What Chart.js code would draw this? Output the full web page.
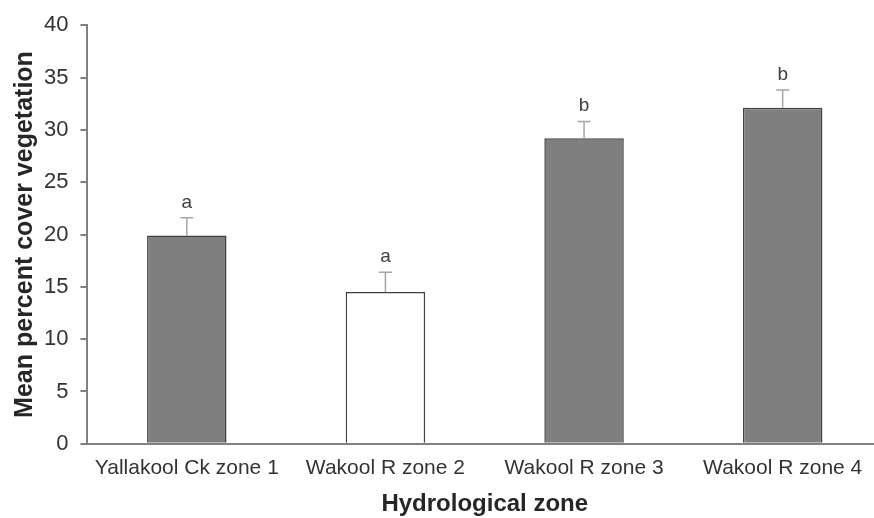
<!DOCTYPE html>
<html>
<head>
<meta charset="utf-8">
<script src="https://cdn.jsdelivr.net/npm/chart.js@4"></script>
<style>
  html, body { margin: 0; padding: 0; background: #fff; overflow: hidden; }
  #wrap { width: 882px; height: 518px; }
</style>
</head>
<body>
<div id="wrap"><canvas id="c"></canvas></div>
<script>
// データ
const zones = ['Yallakool Ck zone 1', 'Wakool R zone 2', 'Wakool R zone 3', 'Wakool R zone 4'];
const meanCover = [19.9, 14.5, 29.2, 32.1];
const errUpper = [1.7, 1.9, 1.6, 1.7];   // 標準誤差（上側のみ）
const groupLetters = ['a', 'a', 'b', 'b'];
const barColors = ['#7f7f7f', '#ffffff', '#7f7f7f', '#7f7f7f'];

const FONT = '"Liberation Sans", Arial, sans-serif';

// エラーバーと文字を描くプラグイン
const errorBars = {
    id: 'errorBars',
    afterDatasetsDraw(chart) {
        const ctx = chart.ctx;
        const y = chart.scales.y;
        const meta = chart.getDatasetMeta(0);
        ctx.save();
        meta.data.forEach((bar, i) => {
            const top = y.getPixelForValue(meanCover[i] + errUpper[i]);
            const base = y.getPixelForValue(meanCover[i]);
            ctx.strokeStyle = '#a6a6a6';
            ctx.lineWidth = 1.5;
            ctx.beginPath();
            ctx.moveTo(bar.x, base);
            ctx.lineTo(bar.x, top);
            ctx.moveTo(bar.x - 6.5, top);
            ctx.lineTo(bar.x + 6.5, top);
            ctx.stroke();
            ctx.fillStyle = '#404040';
            ctx.font = '19px ' + FONT;
            ctx.textAlign = 'center';
            ctx.textBaseline = 'alphabetic';
            ctx.fillText(groupLetters[i], bar.x, top - 10);
        });
        ctx.restore();
    }
};

new Chart(document.getElementById('c'), {
    type: 'bar',
    data: {
        labels: zones,
        datasets: [{
            data: meanCover,
            backgroundColor: barColors,
            borderColor: '#404040',
            borderWidth: 1.5,
            barPercentage: 0.4,
            categoryPercentage: 1.0
        }]
    },
    options: {
        responsive: true,
        maintainAspectRatio: false,
        animation: false,
        layout: { padding: { top: 24, right: 0, left: 1, bottom: 0 } },
        plugins: { legend: { display: false }, tooltip: { enabled: false } },
        scales: {
            x: {
                grid: { display: false, drawTicks: false },
                border: { display: true, color: '#808080', width: 2 },
                ticks: { color: '#333', font: { family: FONT, size: 21 }, padding: 12, maxRotation: 0 },
                title: { display: true, text: 'Hydrological zone', color: '#262626',
                         font: { family: FONT, size: 24, weight: 'bold', lineHeight: 1.0 },
                         padding: { top: -1, bottom: 2 } }
            },
            y: {
                min: 0, max: 40,
                grid: { display: true, drawOnChartArea: false, tickLength: 7, color: '#808080', lineWidth: 2 },
                border: { display: true, color: '#808080', width: 2 },
                ticks: { stepSize: 5, color: '#333', font: { family: FONT, size: 22 }, padding: 12 },
                title: { display: true, text: 'Mean percent cover vegetation', color: '#262626',
                         font: { family: FONT, size: 25, weight: 'bold' }, padding: { top: 9, bottom: -8 } }
            }
        }
    },
    plugins: [errorBars]
});
</script>
</body>
</html>
